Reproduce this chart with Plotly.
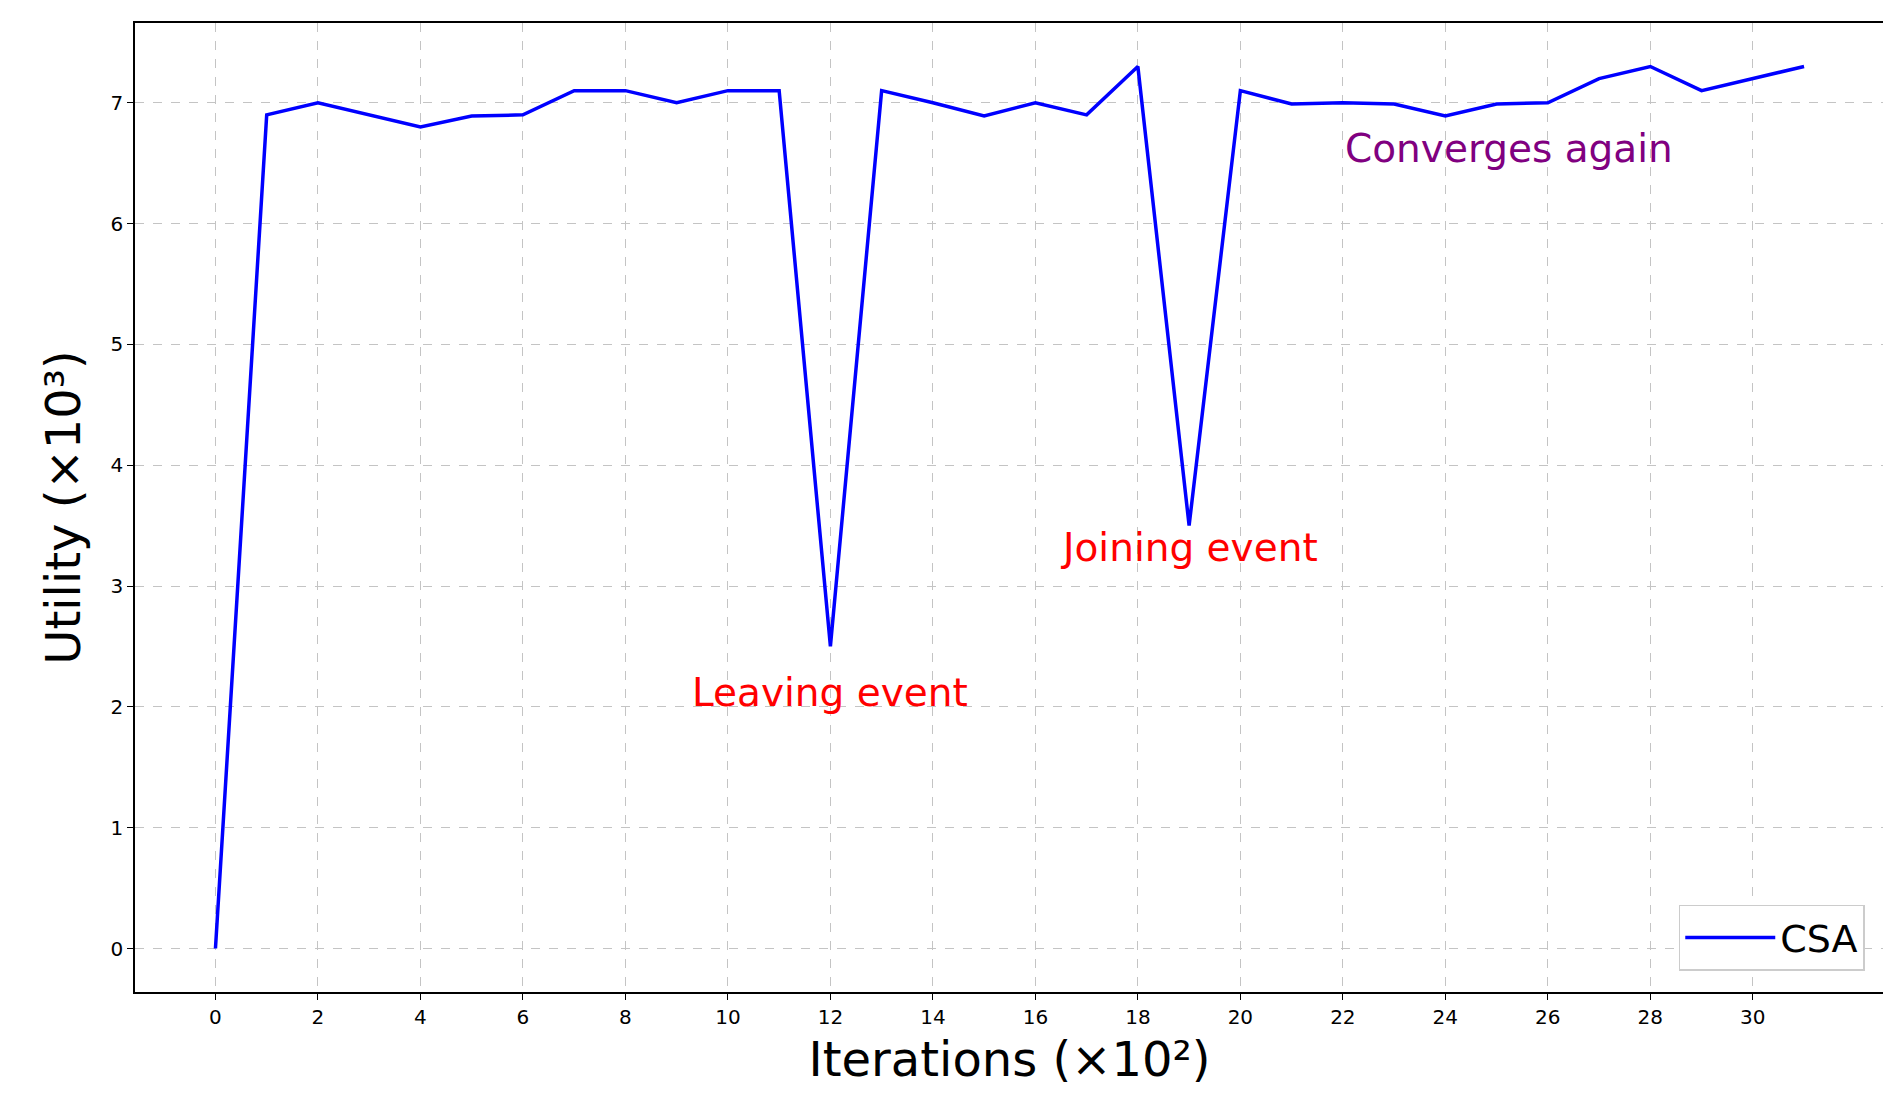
import plotly.graph_objects as go

iterations = list(range(32))
utility = [0, 6.9, 7.0, 6.9, 6.8, 6.89, 6.9, 7.1, 7.1, 7.0, 7.1, 7.1, 2.5, 7.1, 7.0, 6.89,
           7.0, 6.9, 7.3, 3.5, 7.1, 6.99, 7.0, 6.99, 6.89, 6.99, 7.0, 7.2, 7.3, 7.1, 7.2, 7.3]
xticks = list(range(0, 31, 2))
yticks = list(range(0, 8))

fig = go.Figure()
fig.add_trace(go.Scatter(x=iterations, y=utility, mode="lines", name="CSA",
                         line=dict(color="blue", width=3.5)))

fig.add_annotation(x=12, y=2.12, text="Leaving event", showarrow=False,
                   font=dict(color="red", size=39))
fig.add_annotation(x=19, y=3.32, text="Joining event", showarrow=False,
                   font=dict(color="red", size=39))
fig.add_annotation(x=22, y=6.62, text="Converges again", showarrow=False, xanchor="left",
                   font=dict(color="purple", size=39))

axis_common = dict(showline=True, linecolor="black", linewidth=1.5, mirror=True,
                   showgrid=True, gridcolor="#c4c4c4", griddash="dash", gridwidth=1,
                   ticks="outside", ticklen=6, tickcolor="black",
                   tickfont=dict(size=20, color="black"), zeroline=False)

fig.update_xaxes(range=[-1.57, 32.56], tickvals=xticks,
                 title=dict(text="Iterations (×10²)", font=dict(size=48, color="black")),
                 **axis_common)
fig.update_yaxes(range=[-0.36, 7.66], tickvals=yticks,
                 title=dict(text="Utility (×10³)", font=dict(size=48, color="black")),
                 **axis_common)

fig.update_layout(
    width=1891, height=1110,
    margin=dict(l=127, r=15, t=15, b=126),
    plot_bgcolor="white", paper_bgcolor="white",
    font=dict(family="DejaVu Sans"),
    showlegend=True,
    legend=dict(x=0.989, y=0.022, xanchor="right", yanchor="bottom",
                bordercolor="#cccccc", borderwidth=1.5, bgcolor="white",
                font=dict(size=38, color="black"), itemwidth=90),
)
fig.write_html("out.html")
